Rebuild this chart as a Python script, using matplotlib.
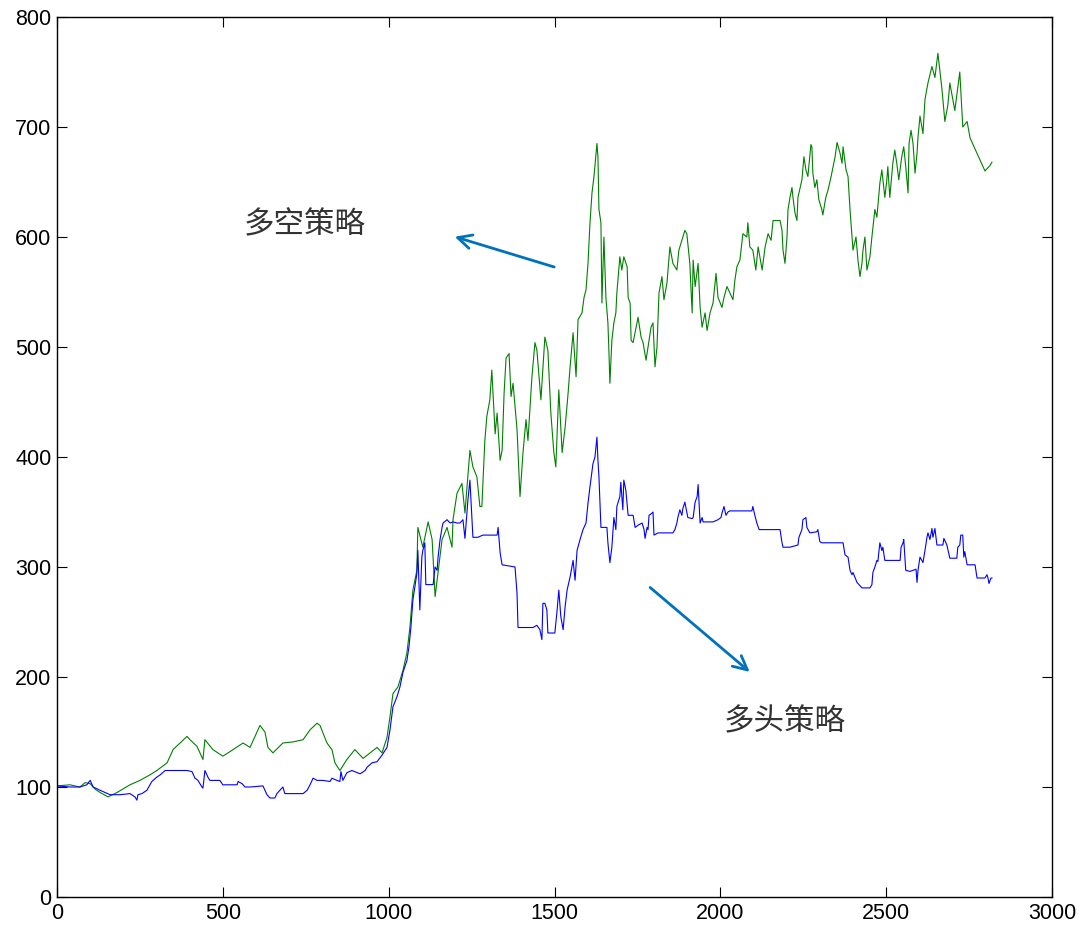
import matplotlib
matplotlib.use("Agg")
import matplotlib.pyplot as plt

plt.rcParams['font.family'] = ['Liberation Sans', 'DejaVu Sans']

# 多空策略 净值
ls_t = [0, 39, 69, 85, 100, 115, 130, 154, 181, 220, 250, 280, 301, 332, 350, 371, 392, 401, 422, 440,
        446, 470, 500, 531, 561, 582, 612, 627, 636, 651, 681, 712, 742, 763, 784, 793, 814, 829, 838, 853,
        874, 898, 923, 944, 965, 980, 995, 1004, 1013, 1028, 1043, 1055, 1064, 1073, 1085, 1088, 1103, 1119, 1131, 1140,
        1149, 1161, 1176, 1191, 1194, 1206, 1221, 1230, 1245, 1254, 1266, 1275, 1281, 1290, 1296, 1305, 1311, 1321, 1327, 1336,
        1342, 1348, 1354, 1363, 1369, 1375, 1387, 1396, 1405, 1414, 1420, 1432, 1441, 1447, 1459, 1471, 1480, 1489, 1498, 1504,
        1513, 1523, 1532, 1541, 1547, 1556, 1565, 1571, 1583, 1589, 1595, 1601, 1607, 1613, 1619, 1628, 1631, 1634, 1640, 1643,
        1649, 1655, 1661, 1664, 1667, 1673, 1679, 1685, 1688, 1697, 1703, 1709, 1719, 1722, 1728, 1731, 1737, 1752, 1761, 1767,
        1776, 1782, 1791, 1797, 1803, 1809, 1815, 1824, 1830, 1839, 1848, 1857, 1869, 1875, 1893, 1899, 1908, 1915, 1918, 1924,
        1933, 1939, 1945, 1954, 1960, 1969, 1978, 1987, 1993, 2005, 2011, 2020, 2029, 2038, 2044, 2050, 2059, 2068, 2080, 2083,
        2089, 2098, 2107, 2114, 2126, 2135, 2144, 2153, 2159, 2180, 2186, 2189, 2195, 2201, 2204, 2210, 2216, 2219, 2225, 2231,
        2234, 2246, 2252, 2258, 2264, 2273, 2276, 2279, 2285, 2291, 2297, 2306, 2309, 2318, 2325, 2334, 2340, 2346, 2352, 2361,
        2367, 2370, 2379, 2385, 2391, 2397, 2400, 2409, 2415, 2421, 2427, 2430, 2436, 2442, 2451, 2457, 2466, 2472, 2481, 2487,
        2496, 2502, 2505, 2511, 2520, 2526, 2532, 2538, 2547, 2553, 2559, 2566, 2569, 2575, 2581, 2587, 2593, 2596, 2602, 2611,
        2617, 2626, 2638, 2647, 2656, 2668, 2677, 2686, 2692, 2707, 2722, 2731, 2744, 2753, 2768, 2783, 2798, 2813, 2819]
ls_v = [101, 102, 100, 104, 103, 98, 95, 91, 95, 102, 106, 111, 115, 122, 134, 140, 146, 143, 137, 125,
        143, 134, 128, 134, 140, 136, 156, 150, 136, 131, 140, 141, 143, 152, 158, 156, 140, 134, 122, 115,
        125, 134, 126, 131, 136, 131, 145, 164, 185, 191, 206, 222, 245, 279, 297, 336, 318, 341, 325, 273,
        295, 325, 336, 318, 343, 367, 376, 349, 406, 391, 382, 355, 355, 415, 437, 452, 479, 421, 440, 397,
        406, 458, 490, 494, 455, 467, 425, 364, 404, 434, 415, 473, 504, 497, 452, 509, 497, 440, 404, 391,
        461, 404, 427, 458, 482, 513, 473, 525, 531, 545, 552, 576, 613, 640, 655, 685, 673, 625, 613, 540,
        600, 545, 522, 497, 467, 506, 522, 531, 549, 582, 570, 582, 573, 545, 540, 506, 504, 527, 509, 504,
        488, 500, 518, 522, 482, 500, 549, 564, 543, 558, 591, 576, 570, 588, 606, 603, 576, 531, 579, 555,
        576, 536, 518, 531, 515, 531, 540, 567, 545, 536, 545, 555, 549, 543, 561, 573, 579, 603, 600, 613,
        591, 588, 570, 591, 570, 591, 603, 597, 615, 615, 606, 588, 576, 600, 625, 636, 645, 636, 622, 615,
        636, 652, 673, 661, 655, 684, 682, 658, 645, 652, 634, 625, 620, 636, 643, 655, 664, 673, 686, 676,
        667, 682, 661, 655, 625, 600, 588, 600, 579, 564, 576, 588, 600, 570, 582, 600, 625, 618, 649, 661,
        636, 652, 664, 636, 667, 679, 667, 652, 673, 682, 664, 640, 685, 697, 685, 658, 676, 691, 710, 694,
        725, 740, 755, 745, 767, 735, 705, 720, 740, 715, 750, 700, 705, 690, 680, 670, 660, 665, 668]

# 多头策略 净值
lo_t = [0, 39, 69, 90, 100, 109, 130, 160, 190, 220, 235, 241, 244, 256, 271, 286, 301, 311, 326, 341,
        392, 407, 416, 425, 437, 440, 446, 455, 461, 491, 500, 543, 546, 558, 567, 582, 621, 633, 642, 657,
        663, 672, 681, 687, 693, 742, 754, 763, 772, 784, 802, 823, 829, 844, 853, 856, 862, 874, 889, 914,
        929, 935, 950, 965, 980, 995, 1004, 1013, 1025, 1034, 1043, 1055, 1061, 1067, 1073, 1085, 1088, 1094, 1100, 1103,
        1109, 1112, 1134, 1140, 1146, 1149, 1155, 1161, 1164, 1176, 1185, 1194, 1206, 1215, 1224, 1230, 1236, 1239, 1245, 1254,
        1269, 1284, 1327, 1330, 1336, 1342, 1381, 1387, 1390, 1435, 1447, 1456, 1462, 1465, 1471, 1477, 1480, 1501, 1507, 1513,
        1519, 1526, 1532, 1538, 1547, 1556, 1562, 1568, 1577, 1586, 1595, 1601, 1607, 1616, 1622, 1628, 1631, 1634, 1640, 1658,
        1661, 1667, 1673, 1679, 1685, 1688, 1697, 1700, 1706, 1709, 1715, 1722, 1737, 1743, 1752, 1764, 1770, 1773, 1779, 1782,
        1785, 1794, 1797, 1800, 1812, 1857, 1863, 1869, 1872, 1878, 1884, 1887, 1893, 1902, 1915, 1918, 1924, 1930, 1933, 1939,
        1945, 1948, 1978, 1993, 2002, 2005, 2011, 2017, 2023, 2029, 2095, 2098, 2104, 2110, 2117, 2180, 2186, 2189, 2210, 2234,
        2237, 2246, 2249, 2258, 2261, 2270, 2291, 2294, 2300, 2306, 2370, 2376, 2385, 2391, 2397, 2400, 2412, 2427, 2451, 2457,
        2460, 2466, 2472, 2475, 2481, 2487, 2490, 2496, 2542, 2545, 2551, 2553, 2559, 2572, 2590, 2593, 2596, 2602, 2611, 2617,
        2623, 2626, 2632, 2638, 2641, 2647, 2653, 2671, 2674, 2683, 2692, 2713, 2716, 2722, 2725, 2731, 2734, 2737, 2744, 2768,
        2774, 2798, 2804, 2807, 2810, 2816, 2819]
lo_v = [101, 100, 100, 102, 106, 100, 97, 93, 93, 94, 91, 88, 93, 94, 97, 105, 109, 111, 115, 115,
        115, 114, 108, 106, 100, 99, 115, 109, 106, 106, 102, 102, 105, 103, 100, 100, 101, 93, 90, 90,
        94, 97, 100, 94, 94, 94, 97, 102, 108, 106, 106, 105, 108, 106, 105, 114, 106, 113, 115, 112,
        115, 118, 122, 123, 129, 136, 152, 173, 182, 191, 204, 215, 227, 245, 270, 294, 315, 261, 309, 315,
        322, 284, 284, 300, 297, 309, 325, 336, 340, 343, 340, 341, 340, 340, 343, 326, 349, 361, 379, 327,
        327, 329, 329, 336, 313, 302, 300, 276, 245, 245, 247, 243, 234, 267, 267, 261, 240, 240, 258, 279,
        255, 243, 264, 279, 291, 306, 288, 315, 325, 334, 340, 358, 373, 394, 400, 418, 397, 382, 336, 336,
        322, 304, 318, 345, 334, 355, 364, 377, 352, 379, 370, 347, 347, 336, 338, 340, 334, 326, 336, 334,
        347, 349, 350, 329, 331, 331, 334, 340, 345, 352, 347, 353, 359, 345, 344, 345, 359, 364, 375, 340,
        345, 341, 341, 343, 345, 349, 355, 347, 350, 351, 351, 355, 347, 340, 334, 334, 322, 318, 318, 320,
        327, 334, 343, 345, 336, 331, 332, 334, 323, 322, 322, 311, 309, 297, 293, 295, 286, 281, 281, 284,
        295, 300, 306, 305, 322, 315, 318, 306, 306, 318, 322, 325, 297, 296, 298, 286, 297, 309, 304, 315,
        327, 331, 325, 335, 327, 335, 320, 320, 326, 320, 308, 308, 318, 320, 329, 329, 309, 314, 302, 302,
        290, 290, 293, 290, 285, 290, 290]

fig = plt.figure(figsize=(10.79, 9.3), dpi=100)
ax = fig.add_axes([57 / 1079, 33 / 930, (1052 - 57) / 1079, (897 - 17) / 930])

ax.plot(ls_t, ls_v, color='#008000', lw=0.8)
ax.plot(lo_t, lo_v, color='#0000ff', lw=0.8)

ax.set_xlim(0, 3000)
ax.set_ylim(0, 800)
ax.set_xticks(range(0, 3001, 500))
ax.set_yticks(range(0, 801, 100))
ax.tick_params(direction='in', length=7, width=0.8, top=True, right=True, labelsize=15.5, pad=4)
for s in ax.spines.values():
    s.set_linewidth(1.0)

# 标注文字
cjk = ['Noto Sans CJK SC', 'DejaVu Sans']
ax.text(748, 611, '多空策略', fontsize=22, family=cjk, weight='light',
        ha='center', va='center', color='#333333')
ax.text(2195, 159, '多头策略', fontsize=22, family=cjk, weight='light',
        ha='center', va='center', color='#333333')

arrow_c = '#0072bd'
ax.annotate('', xy=(1191, 601), xytext=(1507, 572),
            arrowprops=dict(arrowstyle='->', color=arrow_c, lw=2.0, mutation_scale=25))
ax.annotate('', xy=(2095, 203), xytext=(1782, 283),
            arrowprops=dict(arrowstyle='->', color=arrow_c, lw=2.0, mutation_scale=25))

fig.savefig('out.png', dpi=100)
